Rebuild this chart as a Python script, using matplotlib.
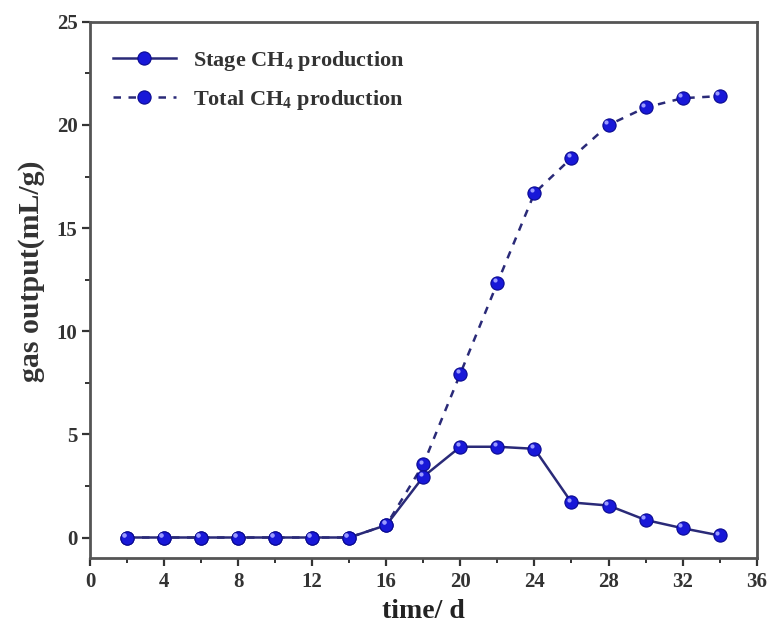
import matplotlib
matplotlib.use('Agg')
import matplotlib.pyplot as plt
from matplotlib.transforms import ScaledTranslation
from matplotlib.ticker import MultipleLocator

days = [2, 4, 6, 8, 10, 12, 14, 16, 18, 20, 22, 24, 26, 28, 30, 32, 34]
stage_ch4 = [0, 0, 0, 0, 0, 0, 0, 0.6, 2.95, 4.4, 4.4, 4.3, 1.7, 1.55, 0.85, 0.45, 0.1]
total_ch4 = [0, 0, 0, 0, 0, 0, 0, 0.6, 3.55, 7.95, 12.35, 16.7, 18.4, 20.0, 20.85, 21.3, 21.4]

plt.rcParams.update({
    'font.family': 'Liberation Serif',
    'font.weight': 'bold',
    'mathtext.fontset': 'custom',
    'mathtext.rm': 'Liberation Serif:bold',
    'mathtext.it': 'Liberation Serif:bold',
    'mathtext.bf': 'Liberation Serif:bold',
    'axes.linewidth': 2.0,
    'axes.edgecolor': '#555555',
    'xtick.major.size': 6,
    'xtick.minor.size': 3.5,
    'ytick.major.size': 6,
    'ytick.minor.size': 3.5,
    'xtick.major.width': 1.6,
    'ytick.major.width': 1.6,
    'xtick.minor.width': 1.4,
    'ytick.minor.width': 1.4,
    'xtick.color': '#333333',
    'ytick.color': '#333333',
})

fig = plt.figure(figsize=(7.69, 6.25), dpi=100)
ax = fig.add_axes([0.117, 0.107, 0.867, 0.858])

line_col = '#2a2a78'
ball = '#1818d8'
mk = dict(marker='o', markersize=9.5, markerfacecolor=ball, markeredgecolor='#0a0a90', markeredgewidth=0.8)

ax.plot(days, total_ch4, linestyle=(0, (3, 3)), color=line_col, lw=1.8,
        label='Total CH$_4$ production', zorder=2, **mk)
ax.plot(days, stage_ch4, linestyle='-', color=line_col, lw=1.8,
        label='Stage CH$_4$ production', zorder=3, **mk)

# small highlight so the markers look like shaded balls
shift = ScaledTranslation(-2 / 72, 2 / 72, fig.dpi_scale_trans)
for ys in (total_ch4, stage_ch4):
    ax.plot(days, ys, linestyle='none', marker='o', markersize=3, color='#9a9aff',
            markeredgewidth=0, transform=ax.transData + shift, zorder=4)

ax.set_xlim(0, 36)
ax.set_ylim(-1, 25)
ax.xaxis.set_major_locator(MultipleLocator(4))
ax.xaxis.set_minor_locator(MultipleLocator(2))
ax.yaxis.set_major_locator(MultipleLocator(5))
ax.yaxis.set_minor_locator(MultipleLocator(2.5))
ax.tick_params(which='both', direction='out', top=False, right=False, labelsize=15)
ax.tick_params(axis='x', pad=4)
ax.tick_params(axis='y', pad=3)

ax.set_xlabel('time/ d', fontsize=20, fontweight='bold', color='#222222')
ax.xaxis.set_label_coords(0.5, -0.077)
ax.set_ylabel('gas output(mL/g)', fontsize=21.5, fontweight='bold', color='#333333')
ax.yaxis.set_label_coords(-0.068, 0.535)

handles, labels = ax.get_legend_handles_labels()
leg = ax.legend(handles[::-1], labels[::-1], loc='upper left', frameon=False, fontsize=16,
                bbox_to_anchor=(0.035, 0.95), borderaxespad=0, borderpad=0,
                handlelength=2.8, handletextpad=0.8, labelspacing=0.7)
for t in leg.get_texts():
    t.set_color('#333333')

fig.savefig('out.png', dpi=100)
